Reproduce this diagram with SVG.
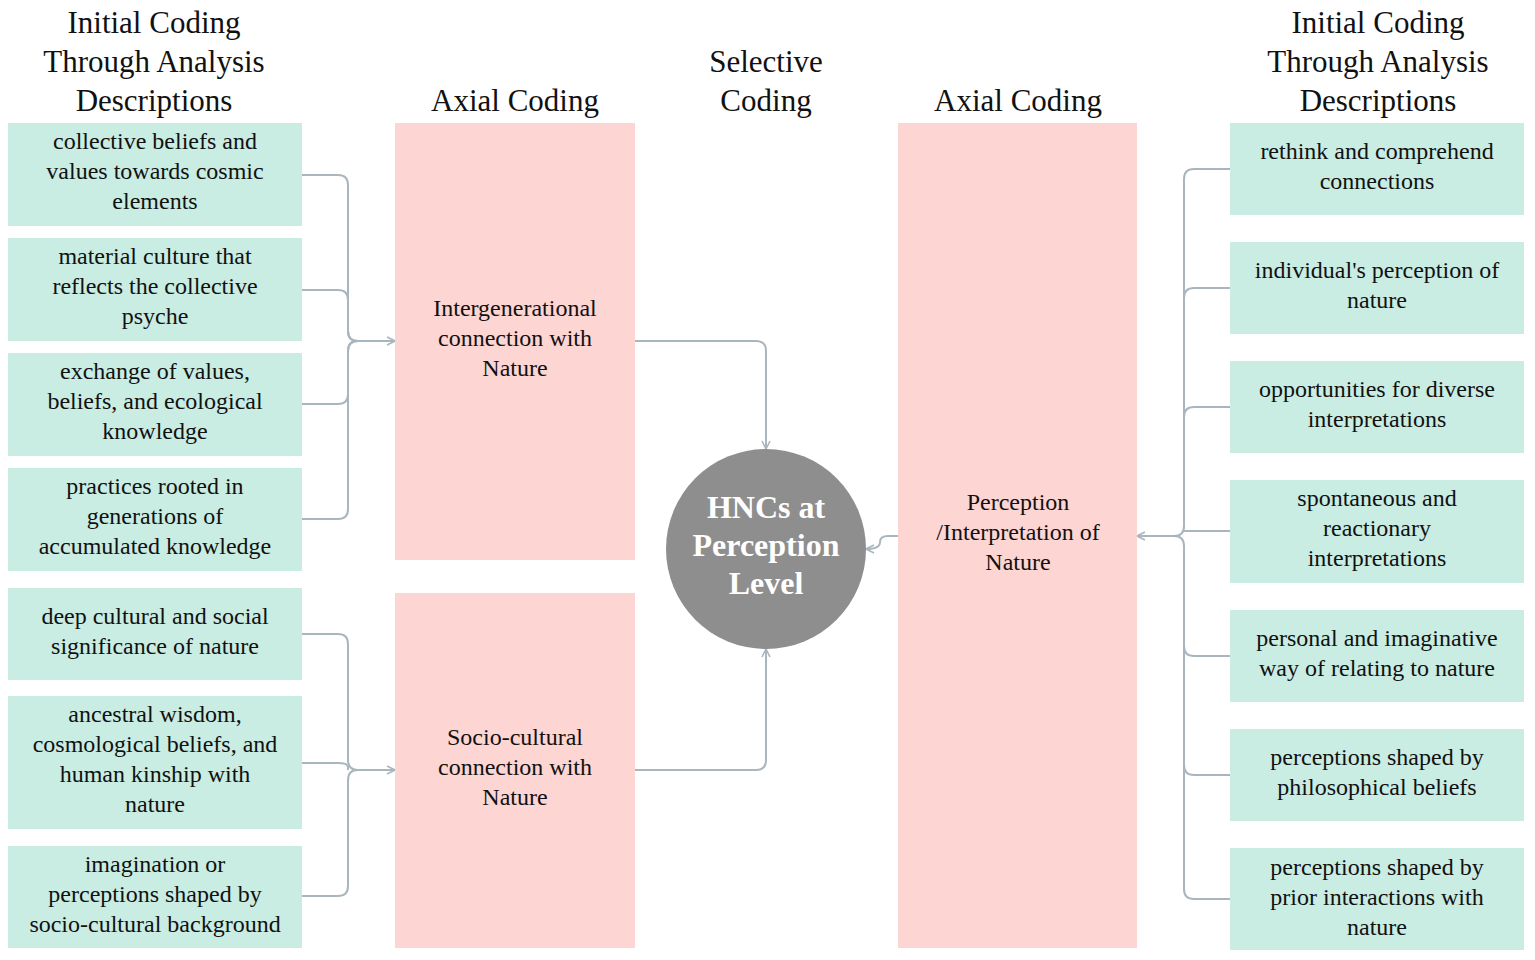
<svg xmlns="http://www.w3.org/2000/svg" width="1535" height="960" viewBox="0 0 1535 960">
<defs>
<style>
.g{fill:#c9ece3}.p{fill:#fdd5d2}
text{font-family:"Liberation Serif","Times New Roman",serif;fill:#111;text-anchor:middle}
.t{font-size:24px}.h{font-size:31px}
.c{fill:none;stroke:#a9b6be;stroke-width:2}
.ct{font-size:32px;font-weight:bold;fill:#fff}
</style>
<marker id="a" viewBox="0 0 10 10" refX="9" refY="5" markerWidth="10" markerHeight="10" markerUnits="userSpaceOnUse" orient="auto"><path d="M1,1L9,5L1,9" fill="none" stroke="#a9b6be" stroke-width="1.6"/></marker>
</defs>
<rect width="1535" height="960" fill="#fff"/>
<g id="headers" class="h">
<text x="154" y="33" class="h">Initial Coding</text><text x="154" y="72" class="h">Through Analysis</text><text x="154" y="111" class="h">Descriptions</text>
<text x="515" y="111" class="h">Axial Coding</text>
<text x="766" y="72" class="h">Selective</text><text x="766" y="111" class="h">Coding</text>
<text x="1018" y="111" class="h">Axial Coding</text>
<text x="1378" y="33" class="h">Initial Coding</text><text x="1378" y="72" class="h">Through Analysis</text><text x="1378" y="111" class="h">Descriptions</text>
</g>
<g id="connectors">
<path class="c" d="M302,175H338Q348,175 348,185V331Q348,341 358,341H395" marker-end="url(#a)"/>
<path class="c" d="M302,290H338Q348,290 348,300V331Q348,341 358,341"/>
<path class="c" d="M302,404H338Q348,404 348,394V351Q348,341 358,341"/>
<path class="c" d="M302,519H338Q348,519 348,509V351Q348,341 358,341"/>
<path class="c" d="M302,634H338Q348,634 348,644V760Q348,770 358,770H395" marker-end="url(#a)"/>
<path class="c" d="M302,763H338Q348,763 348,767V770"/>
<path class="c" d="M302,896H338Q348,896 348,886V780Q348,770 358,770"/>
<path class="c" d="M635,341H756Q766,341 766,351V449" marker-end="url(#a)"/>
<path class="c" d="M635,770H756Q766,770 766,760V649" marker-end="url(#a)"/>
<path class="c" d="M898,536H888Q880,536 880,542Q880,549 866,549" marker-end="url(#a)"/>
<path class="c" d="M1230,169H1194Q1184,169 1184,179V526Q1184,536 1174,536H1137" marker-end="url(#a)"/>
<path class="c" d="M1230,288H1194Q1184,288 1184,298"/>
<path class="c" d="M1230,407H1194Q1184,407 1184,417"/>
<path class="c" d="M1230,531H1184"/>
<path class="c" d="M1230,656H1194Q1184,656 1184,646"/>
<path class="c" d="M1230,775H1194Q1184,775 1184,765"/>
<path class="c" d="M1230,899H1194Q1184,899 1184,889V546Q1184,536 1174,536"/>
</g>
<g id="L1"><rect class="g" x="8" y="123" width="294" height="103"/><text class="t" x="155" y="149">collective beliefs and</text><text class="t" x="155" y="179">values towards cosmic</text><text class="t" x="155" y="209">elements</text></g>
<g id="L2"><rect class="g" x="8" y="238" width="294" height="103"/><text class="t" x="155" y="264">material culture that</text><text class="t" x="155" y="294">reflects the collective</text><text class="t" x="155" y="324">psyche</text></g>
<g id="L3"><rect class="g" x="8" y="353" width="294" height="103"/><text class="t" x="155" y="379">exchange of values,</text><text class="t" x="155" y="409">beliefs, and ecological</text><text class="t" x="155" y="439">knowledge</text></g>
<g id="L4"><rect class="g" x="8" y="468" width="294" height="103"/><text class="t" x="155" y="494">practices rooted in</text><text class="t" x="155" y="524">generations of</text><text class="t" x="155" y="554">accumulated knowledge</text></g>
<g id="L5"><rect class="g" x="8" y="588" width="294" height="92"/><text class="t" x="155" y="624">deep cultural and social</text><text class="t" x="155" y="654">significance of nature</text></g>
<g id="L6"><rect class="g" x="8" y="696" width="294" height="133"/><text class="t" x="155" y="722">ancestral wisdom,</text><text class="t" x="155" y="752">cosmological beliefs, and</text><text class="t" x="155" y="782">human kinship with</text><text class="t" x="155" y="812">nature</text></g>
<g id="L7"><rect class="g" x="8" y="846" width="294" height="102"/><text class="t" x="155" y="872">imagination or</text><text class="t" x="155" y="902">perceptions shaped by</text><text class="t" x="155" y="932">socio-cultural background</text></g>
<g id="A1"><rect class="p" x="395" y="123" width="240" height="437"/><text class="t" x="515" y="316">Intergenerational</text><text class="t" x="515" y="346">connection with</text><text class="t" x="515" y="376">Nature</text></g>
<g id="A2"><rect class="p" x="395" y="593" width="240" height="355"/><text class="t" x="515" y="745">Socio-cultural</text><text class="t" x="515" y="775">connection with</text><text class="t" x="515" y="805">Nature</text></g>
<g id="A3"><rect class="p" x="898" y="123" width="239" height="825"/><text class="t" x="1018" y="510">Perception</text><text class="t" x="1018" y="540">/Interpretation of</text><text class="t" x="1018" y="570">Nature</text></g>
<g id="S"><circle cx="766" cy="549" r="100" fill="#8e8e8e"/><text class="ct" x="766" y="518">HNCs at</text><text class="ct" x="766" y="556">Perception</text><text class="ct" x="766" y="594">Level</text></g>
<g id="R1"><rect class="g" x="1230" y="123" width="294" height="92"/><text class="t" x="1377" y="159">rethink and comprehend</text><text class="t" x="1377" y="189">connections</text></g>
<g id="R2"><rect class="g" x="1230" y="242" width="294" height="92"/><text class="t" x="1377" y="278">individual's perception of</text><text class="t" x="1377" y="308">nature</text></g>
<g id="R3"><rect class="g" x="1230" y="361" width="294" height="92"/><text class="t" x="1377" y="397">opportunities for diverse</text><text class="t" x="1377" y="427">interpretations</text></g>
<g id="R4"><rect class="g" x="1230" y="480" width="294" height="103"/><text class="t" x="1377" y="506">spontaneous and</text><text class="t" x="1377" y="536">reactionary</text><text class="t" x="1377" y="566">interpretations</text></g>
<g id="R5"><rect class="g" x="1230" y="610" width="294" height="92"/><text class="t" x="1377" y="646">personal and imaginative</text><text class="t" x="1377" y="676">way of relating to nature</text></g>
<g id="R6"><rect class="g" x="1230" y="729" width="294" height="92"/><text class="t" x="1377" y="765">perceptions shaped by</text><text class="t" x="1377" y="795">philosophical beliefs</text></g>
<g id="R7"><rect class="g" x="1230" y="848" width="294" height="102"/><text class="t" x="1377" y="875">perceptions shaped by</text><text class="t" x="1377" y="905">prior interactions with</text><text class="t" x="1377" y="935">nature</text></g>
</svg>
